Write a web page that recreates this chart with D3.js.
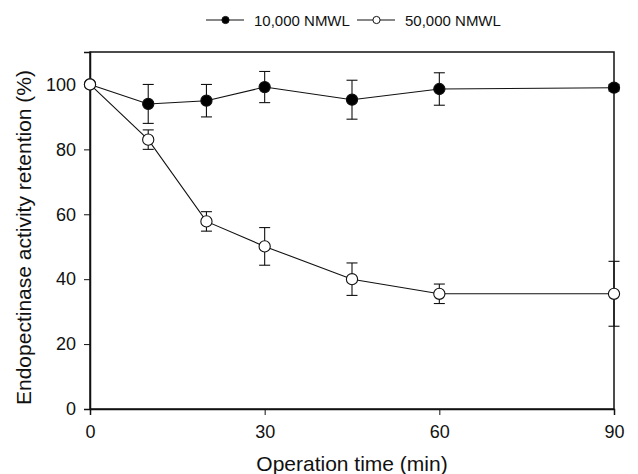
<!DOCTYPE html>
<html>
<head>
<meta charset="utf-8">
<script src="https://cdn.jsdelivr.net/npm/d3@7"></script>
<style>
  body { margin: 0; background: #fff; }
  svg { display: block; font-family: "Liberation Sans", Arial, sans-serif; }
</style>
</head>
<body>
<svg id="chart" width="638" height="474"></svg>
<script>
// dados
var times = [0, 10, 20, 30, 45, 60, 90];
var mem10k = [100, 94, 95, 99.2, 95.3, 98.6, 99];
var err10k = [0, 6, 5, 4.8, 6, 5, 1];
var mem50k = [100, 83, 57.8, 50.1, 40, 35.5, 35.5];
var err50k = [0, 3, 3, 5.8, 5, 3, 10];
var seriesNames = ["10,000 NMWL", "50,000 NMWL"];
var xTicks = [0, 30, 60, 90];
var yTicks = [0, 20, 40, 60, 80, 100];

var margin = {top: 52, right: 24, bottom: 65, left: 90},
    width = 638, height = 474;

var svg = d3.select("#chart");

var x = d3.scaleLinear().domain([0, 90]).range([margin.left, width - margin.right]);
var y = d3.scaleLinear().domain([0, 110]).range([height - margin.bottom, margin.top]);

// moldura
svg.append("rect")
   .attr("x", x(0)).attr("y", y(110))
   .attr("width", x(90) - x(0)).attr("height", y(0) - y(110))
   .attr("fill", "none").attr("stroke", "#111").attr("stroke-width", 1.5);

// eixos
var xAxis = svg.append("g")
   .attr("transform", "translate(0," + y(0) + ")")
   .call(d3.axisBottom(x).tickValues(xTicks).tickSize(6).tickPadding(10));
var yAxis = svg.append("g")
   .attr("transform", "translate(" + x(0) + ",0)")
   .call(d3.axisLeft(y).tickValues(yTicks).tickSize(6).tickPadding(8));

[xAxis, yAxis].forEach(function(a) {
  a.select(".domain").attr("stroke", "#111").attr("stroke-width", 1.5);
  a.selectAll(".tick line").attr("stroke", "#111");
  a.selectAll(".tick text").attr("font-size", 18).attr("fill", "#111")
   .attr("font-family", "Liberation Sans, Arial, sans-serif");
});

// títulos dos eixos
svg.append("text")
   .attr("x", (x(0) + x(90)) / 2).attr("y", 471)
   .attr("text-anchor", "middle").attr("font-size", 21).attr("fill", "#111")
   .text("Operation time (min)");
svg.append("text")
   .attr("transform", "translate(31," + (69 + 406) / 2 + ") rotate(-90)")
   .attr("text-anchor", "middle").attr("font-size", 21).attr("fill", "#111")
   .text("Endopectinase activity retention (%)");

var line = d3.line().x(function(d) { return x(d.t); }).y(function(d) { return y(d.v); });

function drawSeries(vals, errs, fill) {
  var data = times.map(function(t, i) { return {t: t, v: vals[i], e: errs[i]}; });
  var g = svg.append("g");
  g.append("path").datum(data)
   .attr("d", line).attr("fill", "none").attr("stroke", "#111").attr("stroke-width", 1.1);
  var eb = g.selectAll(".err").data(data.filter(function(d) { return d.e > 0; }))
   .enter().append("g").attr("stroke", "#111").attr("stroke-width", 1.1);
  eb.append("line")
   .attr("x1", function(d) { return x(d.t); }).attr("x2", function(d) { return x(d.t); })
   .attr("y1", function(d) { return y(d.v + d.e); }).attr("y2", function(d) { return y(d.v - d.e); });
  eb.append("line")
   .attr("x1", function(d) { return x(d.t) - 5.5; }).attr("x2", function(d) { return x(d.t) + 5.5; })
   .attr("y1", function(d) { return y(d.v + d.e); }).attr("y2", function(d) { return y(d.v + d.e); });
  eb.append("line")
   .attr("x1", function(d) { return x(d.t) - 5.5; }).attr("x2", function(d) { return x(d.t) + 5.5; })
   .attr("y1", function(d) { return y(d.v - d.e); }).attr("y2", function(d) { return y(d.v - d.e); });
  g.selectAll("circle").data(data).enter().append("circle")
   .attr("cx", function(d) { return x(d.t); }).attr("cy", function(d) { return y(d.v); })
   .attr("r", 5.6).attr("fill", fill).attr("stroke", "#111").attr("stroke-width", 1.1);
}

drawSeries(mem10k, err10k, "#000");
drawSeries(mem50k, err50k, "#fff");

// legenda
var legendX = d3.scaleOrdinal().domain(seriesNames).range([206, 357]);
var legendFill = d3.scaleOrdinal().domain(seriesNames).range(["#000", "#fff"]);
var lg = svg.selectAll(".legend").data(seriesNames).enter().append("g")
   .attr("transform", function(d) { return "translate(" + legendX(d) + ",20)"; });
lg.append("line").attr("x1", 0).attr("x2", 38).attr("stroke", "#111").attr("stroke-width", 1.1);
lg.append("circle").attr("cx", 19.5).attr("r", 3.6)
   .attr("fill", function(d) { return legendFill(d); }).attr("stroke", "#111").attr("stroke-width", 1);
lg.append("text").attr("x", 48).attr("y", 5.5).attr("font-size", 15).attr("fill", "#111")
   .text(function(d) { return d; });
</script>
</body>
</html>
